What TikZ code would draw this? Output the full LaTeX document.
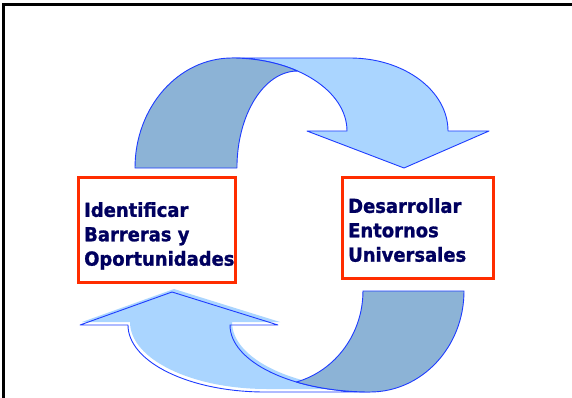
\documentclass[tikz,border=0pt]{standalone}
\usepackage{fontspec}
\newfontfamily\labelfont[FakeStretch=0.93, BoldFeatures={FakeBold=1.2}]{DejaVu Sans}
\definecolor{arrowline}{RGB}{30,60,255}
\definecolor{lightfill}{RGB}{170,213,255}
\definecolor{darkfill}{RGB}{140,179,214}
\definecolor{boxred}{RGB}{255,45,0}
\definecolor{textnavy}{RGB}{0,0,95}
\tikzset{
  redbox/.style={draw=boxred, line width=3pt, fill=white, inner sep=0pt},
  labeltext/.style={text=textnavy, align=left, inner sep=0pt, anchor=north west,
    font=\labelfont\bfseries\fontsize{19.3}{24.4}\selectfont},
  arrowedge/.style={draw=arrowline, line width=0.9pt, line join=round},
  lightpart/.style={arrowedge, fill=lightfill},
  darkpart/.style={arrowedge, fill=darkfill}
}
\begin{document}
\begin{tikzpicture}[x=1pt,y=1pt]
\useasboundingbox (0,0) rectangle (572,-398);
\fill[white] (0,0) rectangle (572,-398);
% frame
\draw[line width=3pt] (3.5,-398) -- (3.5,-4.7) -- (572,-4.7);

% top arrow: light part
\path[lightpart] (232,-58) -- (350,-58)
  arc[start angle=90, end angle=0, x radius=98, y radius=73]
  -- (489,-131) -- (404,-168) -- (307,-131) -- (347,-131)
  arc[start angle=0, end angle=90, x radius=115, y radius=73] -- cycle;
% top arrow: dark part
\path[darkpart] (135,-168)
  arc[start angle=180, end angle=90, x radius=97, y radius=110]
  arc[start angle=90, end angle=55.25, x radius=115, y radius=73]
  arc[start angle=90, end angle=180, x radius=60.6, y radius=97] -- cycle;

% bottom arrow: light part (offset fill + outline)
\fill[lightfill, shift={(2,3)}] (80,-325) -- (172,-292) -- (278,-325) -- (230,-325)
  arc[start angle=180, end angle=270, x radius=140, y radius=67]
  -- (265,-392)
  arc[start angle=270, end angle=180, x radius=137, y radius=67] -- cycle;
\path[arrowedge] (80,-325) -- (172,-292) -- (278,-325) -- (230,-325)
  arc[start angle=180, end angle=270, x radius=140, y radius=67]
  -- (265,-392)
  arc[start angle=270, end angle=180, x radius=137, y radius=67] -- cycle;
% bottom arrow: dark part
\path[darkpart] (363,-291) -- (464,-291)
  arc[start angle=0, end angle=-90, x radius=94, y radius=101]
  arc[start angle=270, end angle=238.3, x radius=140, y radius=67]
  arc[start angle=-74.4, end angle=0, x radius=91, y radius=94.5] -- cycle;

% boxes
\node[redbox, minimum width=157pt, minimum height=105pt] (leftbox) at (157,-230) {};
\node[redbox, minimum width=151pt, minimum height=101pt] (rightbox) at (418,-228) {};
\node[labeltext] (lefttext) at (84,-202) {Identificar\\Barreras y\\Oportunidades};
\node[labeltext] (righttext) at (348,-198) {Desarrollar\\Entornos\\Universales};
\end{tikzpicture}
\end{document}
